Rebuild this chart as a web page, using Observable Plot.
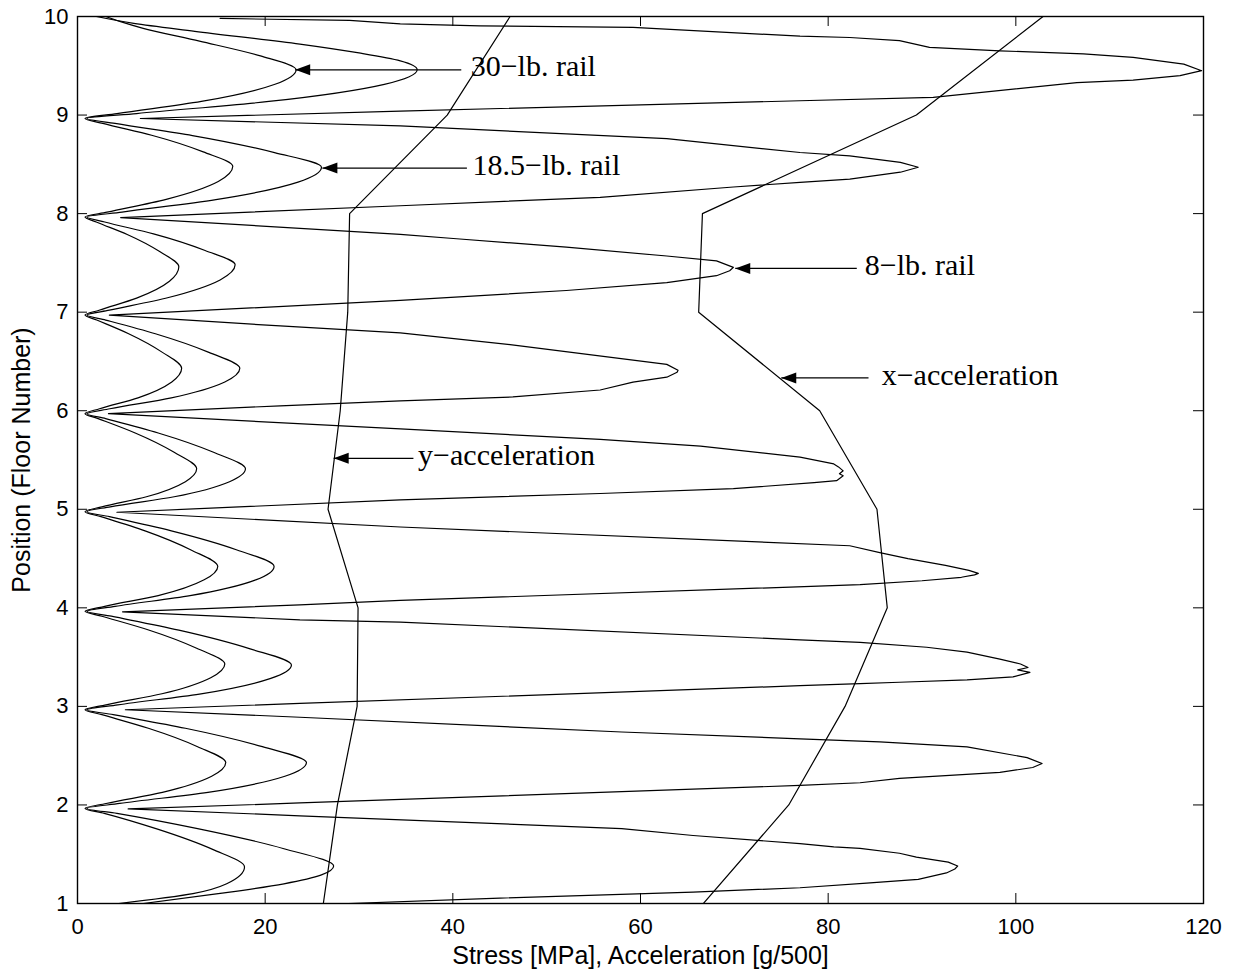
<!DOCTYPE html>
<html><head><meta charset="utf-8">
<script src="https://cdn.jsdelivr.net/npm/d3@7"></script>
<script src="https://cdn.jsdelivr.net/npm/@observablehq/plot@0.6"></script>
<style>body{margin:0;background:#fff}#chart{width:1240px;height:974px}</style>
</head><body><div id="chart"></div>
<script>
// Position (floor number) for the acceleration profiles
const floors = [1, 2, 3, 4, 5, 6, 7, 8, 9, 10];
const xAccel = [66.7, 75.8, 81.8, 86.3, 85.2, 79.1, 66.2, 66.6, 89.4, 102.9];
const yAccel = [26.2, 27.7, 29.8, 29.9, 26.7, 28.0, 28.8, 29.0, 39.4, 46.1];
const xTicks = [0, 20, 40, 60, 80, 100, 120];
const yTicks = [1, 2, 3, 4, 5, 6, 7, 8, 9, 10];

// Rail stress curves: [stress, position]
const rail30 = [
  [4.4,1.0],[12.3,1.10],[15.9,1.20],[17.8,1.37],[14.4,1.549],[8.45,1.757],[2.85,1.915],[0.8,1.965],
  [3.05,2.015],[9.05,2.128],[14.3,2.291],[15.8,2.43],[12.8,2.591],[7.55,2.778],[2.6,2.916],[0.8,2.966],
  [3.05,3.016],[9.0,3.128],[14.2,3.291],[15.7,3.43],[12.7,3.59],[7.5,3.778],[2.6,3.915],[0.8,3.965],
  [2.9,4.015],[8.6,4.124],[13.5,4.284],[14.95,4.42],[12.1,4.587],[7.2,4.781],[2.5,4.925],[0.8,4.975],
  [2.6,5.025],[7.35,5.127],[11.5,5.28],[12.7,5.41],[10.3,5.578],[6.15,5.774],[2.2,5.92],[0.8,5.97],
  [2.35,6.02],[6.45,6.131],[10.05,6.292],[11.1,6.43],[9.05,6.592],[5.45,6.781],[2.05,6.92],[0.8,6.97],
  [2.3,7.02],[6.3,7.142],[9.8,7.313],[10.8,7.46],[8.8,7.612],[5.3,7.788],[2.0,7.915],[0.8,7.965],
  [3.15,8.015],[9.45,8.145],[15.0,8.326],[16.55,8.48],[13.4,8.626],[7.9,8.795],[2.7,8.915],[0.8,8.965],
  [4.2,9.015],[13.2,9.138],[21.05,9.312],[23.3,9.46],[19.5,9.60],[13.0,9.75],[7.0,9.88],[4.5,9.95],[3.0,10.0]
];
const rail185 = [
  [7.0,1.0],[15.0,1.10],[22.0,1.20],[26.0,1.29],[27.3,1.38],[22.0,1.556],[12.8,1.76],[4.2,1.915],[1.0,1.965],
  [4.5,2.015],[13.9,2.128],[22.1,2.291],[24.4,2.43],[19.7,2.591],[11.5,2.778],[3.8,2.916],[1.0,2.966],
  [4.3,3.016],[13.0,3.125],[20.6,3.284],[22.8,3.42],[18.4,3.584],[10.8,3.774],[3.6,3.915],[1.0,3.965],
  [4.0,4.015],[12.0,4.124],[19.0,4.284],[20.95,4.42],[17.0,4.587],[10.0,4.781],[3.4,4.925],[1.0,4.975],
  [3.5,5.025],[10.3,5.127],[16.2,5.28],[17.9,5.41],[14.5,5.578],[8.6,5.774],[3.0,5.92],[1.0,5.97],
  [3.45,6.02],[10.0,6.131],[15.7,6.292],[17.3,6.43],[14.0,6.592],[8.3,6.781],[3.0,6.92],[1.0,6.97],
  [3.4,7.02],[9.7,7.149],[15.2,7.327],[16.8,7.48],[13.6,7.626],[8.1,7.795],[2.9,7.915],[1.0,7.965],
  [4.75,8.015],[14.75,8.142],[23.5,8.319],[26.0,8.47],[21.0,8.619],[12.25,8.792],[4.0,8.915],[1.0,8.965],
  [6.3,9.015],[20.4,9.138],[32.7,9.312],[36.2,9.46],[34.4,9.55],[30.0,9.63],[23.7,9.72],[12.5,9.85],[6.0,9.93],[2.0,10.0]
];
const rail8 = [
  [28.9,1.0],[45.0,1.055],[65.6,1.115],[77.0,1.16],[84.1,1.207],[89.6,1.245],[92.6,1.31],[93.5,1.35],[93.8,1.38],
  [92.8,1.42],[89.4,1.47],[87.6,1.51],[83.4,1.56],[80.6,1.575],[77.0,1.607],[65.6,1.69],[58.0,1.76],[23.7,1.89],[5.4,1.96],
  [23.7,2.02],[77.0,2.198],[83.4,2.225],[87.6,2.27],[98.3,2.33],[101.8,2.38],[102.8,2.42],[101.2,2.48],[94.8,2.59],
  [85.5,2.64],[77.0,2.671],[58.0,2.74],[23.7,2.89],[5.1,2.966],
  [23.7,3.03],[77.0,3.21],[83.4,3.23],[87.6,3.245],[94.8,3.27],[99.7,3.30],[101.5,3.345],[100.2,3.37],[101.3,3.395],
  [100.5,3.43],[98.3,3.48],[94.8,3.55],[90.5,3.60],[83.4,3.65],[77.0,3.675],[34.4,3.855],[23.7,3.878],[4.8,3.96],
  [23.7,4.03],[34.4,4.075],[83.4,4.235],[90.0,4.275],[94.2,4.31],[95.6,4.335],[96.0,4.35],[95.0,4.38],[92.5,4.43],
  [88.5,4.50],[85.5,4.56],[82.3,4.63],[34.4,4.82],[4.2,4.97],
  [34.4,5.095],[55.7,5.16],[69.9,5.21],[78.5,5.27],[80.9,5.29],[81.6,5.34],[81.2,5.36],[81.6,5.39],[81.1,5.43],
  [80.6,5.46],[77.0,5.53],[66.4,5.64],[55.7,5.71],[34.4,5.815],[3.3,5.97],
  [21.6,6.05],[34.4,6.10],[46.4,6.14],[55.7,6.21],[59.2,6.29],[62.8,6.34],[63.9,6.39],[64.0,6.41],[62.8,6.47],
  [46.1,6.67],[34.4,6.79],[21.6,6.86],[3.4,6.97],
  [34.4,7.12],[52.1,7.22],[62.8,7.30],[68.1,7.37],[69.5,7.42],[69.9,7.455],[68.1,7.52],[62.8,7.57],[52.1,7.66],
  [40.4,7.745],[34.4,7.79],[4.6,7.96],
  [34.4,8.08],[55.7,8.165],[69.9,8.27],[77.0,8.317],[82.3,8.35],[87.7,8.42],[89.6,8.47],[87.7,8.52],[82.3,8.585],
  [77.0,8.62],[62.8,8.76],[34.4,8.89],[6.7,8.965],
  [34.4,9.04],[77.0,9.145],[91.2,9.18],[106.5,9.33],[112.5,9.355],[117.5,9.40],[119.8,9.45],[117.9,9.517],
  [112.5,9.585],[107.2,9.62],[98.3,9.652],[90.8,9.686],[87.6,9.755],[82.3,9.787],[77.0,9.80],[59.2,9.89],
  [42.9,9.905],[34.4,9.925],[29.0,9.96],[15.2,9.98]
];

// Annotations
const labelText  = ["30\u2212lb. rail", "18.5\u2212lb. rail", "8\u2212lb. rail", "x\u2212acceleration", "y\u2212acceleration"];
const labelTip   = [23.2, 26.1, 70.1, 75.0, 27.3];
const labelTail  = [40.9, 41.5, 83.05, 84.3, 35.8];
const labelStart = [41.9, 42.1, 83.9, 85.7, 36.3];
const labelPos   = [9.459, 8.462, 7.444, 6.333, 5.517];

const notes = labelText.map((t, i) => ({text: t, tip: labelTip[i], tail: labelTail[i], start: labelStart[i], y: labelPos[i]}));
const xAccData = floors.map((f, i) => ({x: xAccel[i], y: f}));
const yAccData = floors.map((f, i) => ({x: yAccel[i], y: f}));

const W = 1240, H = 974, mL = 77, mR = 37, mT = 16, mB = 71;
const pw = W - mL - mR, ph = H - mT - mB;

const arrowHead = {draw(ctx) { ctx.moveTo(0, 0); ctx.lineTo(15, -5.5); ctx.lineTo(15, 5.5); ctx.closePath(); }};
const lineStyle = {stroke: "#000", strokeWidth: 1.2, clip: true};

const chart = Plot.plot({
  width: W, height: H,
  marginLeft: mL, marginRight: mR, marginTop: mT, marginBottom: mB,
  x: {domain: [0, 120]},
  y: {domain: [1, 10]},
  style: {fontFamily: "'Liberation Sans', Arial, Helvetica, sans-serif", fontSize: "22px", background: "#fff", color: "#000"},
  marks: [
    Plot.line(rail30, {x: d => d[0], y: d => d[1], curve: "monotone-y", ...lineStyle}),
    Plot.line(rail185, {x: d => d[0], y: d => d[1], curve: "monotone-y", ...lineStyle}),
    Plot.line(rail8, {x: d => d[0], y: d => d[1], curve: "linear", ...lineStyle}),
    Plot.line(xAccData, {x: "x", y: "y", ...lineStyle}),
    Plot.line(yAccData, {x: "x", y: "y", ...lineStyle}),
    Plot.link(notes, {x1: "tail", x2: "tip", y1: "y", y2: "y", stroke: "#000", strokeWidth: 1.2}),
    Plot.dot(notes, {x: "tip", y: "y", symbol: arrowHead, fill: "#000", stroke: null}),
    Plot.text(notes, {x: "start", y: "y", text: "text", textAnchor: "start", dy: -3,
      fontFamily: "'Liberation Serif', 'Times New Roman', serif", fontSize: 30, fill: "#000"}),
    Plot.frame({stroke: "#000", strokeWidth: 1.4}),
    Plot.tickX(xTicks, {x: d => d, insetTop: ph - 10, stroke: "#000"}),
    Plot.tickX(xTicks, {x: d => d, insetBottom: ph - 10, stroke: "#000"}),
    Plot.tickY(yTicks, {y: d => d, insetRight: pw - 10, stroke: "#000"}),
    Plot.tickY(yTicks, {y: d => d, insetLeft: pw - 10, stroke: "#000"}),
    Plot.axisX({ticks: xTicks, tickSize: 0, tickPadding: 15, label: null, tickFormat: d => String(d)}),
    Plot.axisY({ticks: yTicks, tickSize: 0, tickPadding: 9, label: null, tickFormat: d => String(d)}),
    Plot.text(["Stress [MPa], Acceleration [g/500]"], {frameAnchor: "bottom", dy: 52, lineAnchor: "middle", textAnchor: "middle", fontSize: 25, fill: "#000"}),
    Plot.text(["Position (Floor Number)"], {frameAnchor: "left", dx: -56, rotate: -90, lineAnchor: "middle", textAnchor: "middle", fontSize: 25, fill: "#000"})
  ]
});
document.getElementById("chart").appendChild(chart);
</script>
</body></html>
